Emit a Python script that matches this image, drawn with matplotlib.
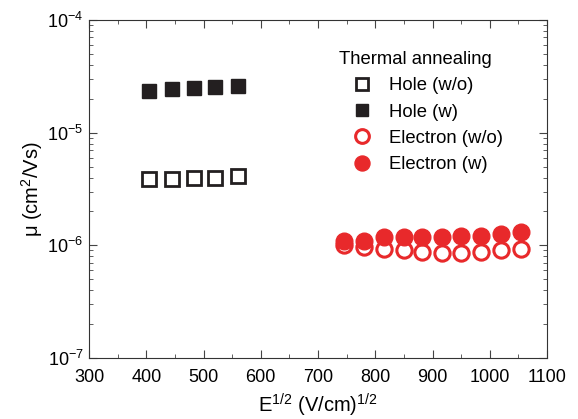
import matplotlib.pyplot as plt
from matplotlib.ticker import LogLocator, MultipleLocator, NullFormatter

plt.rcParams['font.family'] = ['Liberation Sans', 'DejaVu Sans']
plt.rcParams['mathtext.fontset'] = 'custom'
plt.rcParams['mathtext.rm'] = 'Liberation Sans'

# du lieu doc tu hinh
hole_x = [405, 445, 483, 520, 560]
hole_wo = [3.85e-6, 3.9e-6, 3.95e-6, 4.0e-6, 4.15e-6]
hole_w = [2.35e-5, 2.45e-5, 2.5e-5, 2.55e-5, 2.6e-5]

elec_x = [745, 780, 815, 850, 882, 917, 950, 985, 1020, 1055]
elec_wo = [1.0e-6, 0.97e-6, 0.93e-6, 0.9e-6, 0.87e-6, 0.85e-6, 0.86e-6, 0.88e-6, 0.9e-6, 0.92e-6]
elec_w = [1.1e-6, 1.1e-6, 1.18e-6, 1.18e-6, 1.18e-6, 1.18e-6, 1.2e-6, 1.2e-6, 1.25e-6, 1.3e-6]

black = '#231f20'
red = '#e8292b'

fig = plt.figure(figsize=(5.78, 4.19), dpi=100)
ax = fig.add_axes([89 / 578, 1 - 358 / 419, 458 / 578, 338 / 419])

ax.plot(hole_x, hole_wo, 's', ms=9.5, mfc='white', mec=black, mew=2, ls='none', label='Hole (w/o)')
ax.plot(hole_x, hole_w, 's', ms=10, mfc=black, mec=black, mew=1, ls='none', label='Hole (w)')
ax.plot(elec_x, elec_wo, 'o', ms=11, mfc='white', mec=red, mew=2.2, ls='none', label='Electron (w/o)')
ax.plot(elec_x, elec_w, 'o', ms=12, mfc=red, mec=red, mew=1, ls='none', label='Electron (w)')

ax.set_yscale('log')
ax.set_xlim(300, 1100)
ax.set_ylim(1e-7, 1e-4)
ax.xaxis.set_major_locator(MultipleLocator(100))
ax.xaxis.set_minor_locator(MultipleLocator(50))
ax.yaxis.set_minor_locator(LogLocator(base=10, subs=range(2, 10)))
ax.yaxis.set_minor_formatter(NullFormatter())
ax.tick_params(which='both', direction='in', top=True, right=True, labelsize=13, color='#444444')
ax.tick_params(which='major', length=6)
ax.tick_params(which='minor', length=3)
ax.tick_params(axis='x', which='major', pad=8)
ax.tick_params(axis='y', which='major', pad=4)
for s in ax.spines.values():
    s.set_color('#333333')

ax.set_xlabel('E$^{1/2}$ (V/cm)$^{1/2}$', fontsize=14.5, labelpad=4)
ax.set_ylabel('μ (cm$^2$/Vs)', fontsize=14.5, labelpad=2)

leg = ax.legend(title='Thermal annealing', loc='upper left', bbox_to_anchor=(0.526, 0.935),
                frameon=False, fontsize=13.3, title_fontsize=13.3, borderpad=0,
                handlelength=2.5, handletextpad=0.2, labelspacing=0.5,
                markerscale=0.9, alignment='left')

fig.savefig('out.png', dpi=100)
